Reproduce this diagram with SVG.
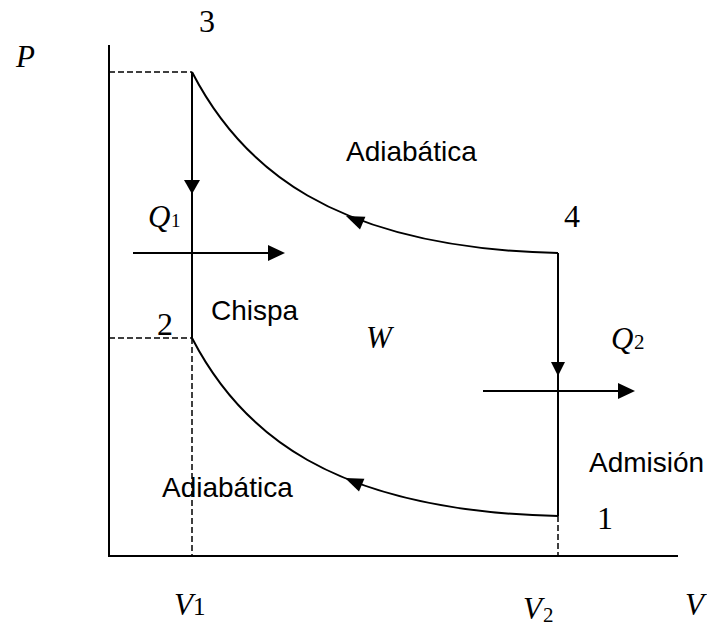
<svg xmlns="http://www.w3.org/2000/svg" width="707" height="626" viewBox="0 0 707 626">
<style>
.ln{stroke:#000;stroke-width:2;fill:none}
.ds{stroke:#000;stroke-width:1.5;fill:none;stroke-dasharray:6,3}
.ah{fill:#000;stroke:none}
.m{font-family:"Liberation Serif","DejaVu Serif",serif;font-size:32px;fill:#000}
.mi{font-family:"Liberation Serif","DejaVu Serif",serif;font-size:31px;font-style:italic;fill:#000}
.s{font-family:"Liberation Sans",Arial,sans-serif;font-size:28px;fill:#000}
</style>
<rect width="707" height="626" fill="#fff"/>
<g id="connectors">
  <line class="ln" x1="109" y1="45" x2="109" y2="557"/>
  <line class="ln" x1="108" y1="556" x2="678" y2="556"/>
  <line class="ds" x1="109" y1="72" x2="192" y2="72"/>
  <line class="ds" x1="109" y1="338" x2="192" y2="338"/>
  <line class="ds" x1="192" y1="338" x2="192" y2="556"/>
  <line class="ds" x1="558" y1="516" x2="558" y2="556"/>
  <line class="ln" x1="192" y1="72" x2="192" y2="338"/>
  <polygon class="ah" points="184,180 200,180 192,194"/>
  <line class="ln" x1="558" y1="253" x2="558" y2="516"/>
  <polygon class="ah" points="551,362 565,362 558,376"/>
  <path class="ln" d="M192,72 C240,165 330,248 558,253"/>
  <polygon class="ah" points="346,216 365.4,216.8 360,229.6"/>
  <path class="ln" d="M192,338 C240,431 330,511 558,516"/>
  <polygon class="ah" points="345,478 364.4,478.8 359,491.6"/>
  <line class="ln" x1="133" y1="253" x2="272" y2="253"/>
  <polygon class="ah" points="268,245 268,261 285,253"/>
  <line class="ln" x1="483" y1="391" x2="622" y2="391"/>
  <polygon class="ah" points="618,383 618,399 635,391"/>
</g>
<g id="axis-P"><text class="mi" x="16" y="67">P</text></g>
<g id="axis-V"><text class="mi" x="685" y="615">V</text></g>
<g id="state-3"><text class="m" x="199" y="32">3</text></g>
<g id="state-4"><text class="m" x="564" y="227">4</text></g>
<g id="state-2"><text class="m" x="157" y="335">2</text></g>
<g id="state-1"><text class="m" x="597" y="529">1</text></g>
<g id="label-Q1"><text class="mi" x="148" y="227">Q</text><text class="m" x="171" y="227" style="font-size:19px">1</text></g>
<g id="label-Q2"><text class="mi" x="611" y="349">Q</text><text class="m" x="634" y="349" style="font-size:21px">2</text></g>
<g id="label-W"><text class="mi" x="366" y="348">W</text></g>
<g id="label-V1"><text class="mi" x="174" y="615">V</text><text class="m" x="193" y="615" style="font-size:25px">1</text></g>
<g id="label-V2"><text class="mi" x="523" y="619">V</text><text class="m" x="543" y="622" style="font-size:21px">2</text></g>
<g id="label-adiabatica-top"><text class="s" x="346" y="161">Adiabática</text></g>
<g id="label-chispa"><text class="s" x="211" y="320">Chispa</text></g>
<g id="label-admision"><text class="s" x="589" y="472">Admisión</text></g>
<g id="label-adiabatica-bottom"><text class="s" x="162" y="497">Adiabática</text></g>
</svg>
